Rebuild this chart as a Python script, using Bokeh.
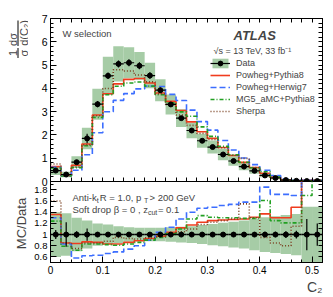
import numpy as np
from bokeh.plotting import figure
from bokeh.layouts import column, row
from bokeh.models import (ColumnDataSource, Label, Legend, LegendItem, LinearAxis,
                          FixedTicker, Range1d, Title)
from bokeh.embed import file_html
from bokeh.resources import INLINE

# ---------------- data ----------------
bin_edges = [0.00, 0.02, 0.04, 0.06, 0.08, 0.10, 0.12, 0.14, 0.16, 0.18, 0.20, 0.22, 0.24,
             0.26, 0.28, 0.30, 0.32, 0.34, 0.36, 0.38, 0.40, 0.42, 0.44, 0.46, 0.48, 0.50, 0.52]
data_values = [0.47, 0.30, 0.83, 1.85, 3.32, 4.54, 5.05, 5.10, 4.97, 4.55, 3.92, 3.31, 2.72,
               2.19, 1.75, 1.48, 1.16, 0.88, 0.64, 0.46, 0.26, 0.15, 0.06, 0.03, 0.02, 0.02]
data_stat_rel = [0.08, 0.22, 0.06, 0.11, 0.04, 0.03, 0.03, 0.03, 0.03, 0.03, 0.03, 0.03, 0.03,
                 0.03, 0.03, 0.03, 0.03, 0.04, 0.04, 0.04, 0.05, 0.05, 0.06, 0.07, 0.28, 0.20]
data_total_rel = [0.40, 0.38, 0.30, 0.25, 0.20, 0.18, 0.15, 0.13, 0.12, 0.12, 0.12, 0.13, 0.14,
                  0.15, 0.17, 0.19, 0.21, 0.23, 0.25, 0.28, 0.31, 0.33, 0.35, 0.37, 0.50, 0.50]
ratio_powheg_pythia8 = [1.36, 0.85, 0.84, 0.87, 0.86, 0.83, 0.83, 0.86, 0.89, 0.93, 0.97, 1.04, 1.12,
                        1.17, 1.22, 1.25, 1.26, 1.27, 1.28, 1.31, 1.37, 1.30, 1.30, 1.49, 2.60, 2.60]
ratio_powheg_herwig7 = [1.30, 0.83, 0.58, 0.62, 0.63, 0.66, 0.69, 0.74, 0.80, 0.90, 1.04, 1.13, 1.28,
                        1.40, 1.47, 1.49, 1.52, 1.54, 1.58, 1.58, 1.85, 1.72, 1.72, 1.70, 2.60, 2.60]
ratio_mg5_pythia8 = [1.24, 0.79, 0.72, 0.83, 0.83, 0.82, 0.81, 0.83, 0.86, 0.90, 0.95, 1.02, 1.10,
                     1.28, 1.34, 1.31, 1.30, 1.30, 1.29, 1.29, 1.61, 1.25, 1.21, 1.21, 1.70, 2.60]
ratio_sherpa = [1.60, 0.85, 0.75, 0.85, 0.85, 0.88, 0.95, 0.93, 0.92, 0.94, 0.96, 1.00, 1.05,
                1.10, 1.18, 1.22, 1.25, 1.28, 1.55, 1.30, 0.95, 0.85, 0.80, 1.15, 2.60, 2.60]
series_names = ["Powheg+Pythia8", "Powheg+Herwig7", "MG5_aMC+Pythia8", "Sherpa"]
x_ticks = [0.0, 0.1, 0.2, 0.3, 0.4, 0.5]
x_tick_labels = ["0", "0.1", "0.2", "0.3", "0.4", "0.5"]
main_y_ticks = [0, 1, 2, 3, 4, 5, 6, 7]
ratio_y_ticks = [0.6, 0.8, 1.0, 1.2, 1.4, 1.6, 1.8]
ratio_y_tick_labels = ["0.6", "0.8", "1", "1.2", "1.4", "1.6", "1.8"]

# ---------------- styling ----------------
FONT = "Liberation Sans"
GREEN = "#a6cca6"
styles = [
    dict(line_color="#f03c1e", line_width=1.6, line_dash="solid"),
    dict(line_color="#3c6eff", line_width=1.6, line_dash="6 3"),
    dict(line_color="#22a022", line_width=1.6, line_dash="4 2 1 2"),
    dict(line_color="#7a4020", line_width=1.6, line_dash="1 2"),
]
LEFT_W = 28          # width of the strip holding the y titles
FW, FH_MAIN, FH_RATIO = 272, 163, 81
OVERLAP = 6          # main panel's bottom border slides under the ratio panel
X0, X1 = 0.0, 0.52
MAIN_Y = (0.0, 7.0)
RATIO_Y = (0.5, 1.95)

edges = np.array(bin_edges)
lo, hi = edges[:-1], edges[1:]
ctr = 0.5 * (lo + hi)
data = np.array(data_values)
stat = np.array(data_stat_rel)
tot = np.array(data_total_rel)
ratios = [np.array(r) for r in (ratio_powheg_pythia8, ratio_powheg_herwig7,
                                ratio_mg5_pythia8, ratio_sherpa)]

minor_x = list(np.round(np.arange(0, 0.5201, 0.02), 3))
minor_main_y = list(np.round(np.arange(0, 7.01, 0.2), 2))
minor_ratio_y = list(np.round(np.arange(0.5, 1.951, 0.1), 2))


def style_axis(ax, size="10px"):
    ax.major_tick_in = 6
    ax.major_tick_out = 0
    ax.minor_tick_in = 3
    ax.minor_tick_out = 0
    ax.axis_line_color = "black"
    ax.major_tick_line_color = "black"
    ax.minor_tick_line_color = "black"
    ax.major_label_text_font = FONT
    ax.major_label_text_color = "black"
    ax.major_label_text_font_size = size
    ax.major_label_standoff = 3


def bare_axis(minor):
    # tick marks only (no labels): every tick drawn as a "minor" tick
    ax = LinearAxis(ticker=FixedTicker(ticks=[], minor_ticks=minor))
    ax.minor_tick_in = 4
    ax.minor_tick_out = 0
    ax.major_tick_in = 0
    ax.major_tick_out = 0
    ax.major_label_standoff = 0
    ax.axis_line_color = "black"
    return ax


def px2x(px):
    return X0 + (px - 50.0) / FW * (X1 - X0)


def main_y(py):
    return MAIN_Y[0] + (181.0 - py) / FH_MAIN * (MAIN_Y[1] - MAIN_Y[0])


def ratio_y(py):
    return RATIO_Y[1] - (py - 181.0) / FH_RATIO * (RATIO_Y[1] - RATIO_Y[0])


# ---------------- main panel ----------------
p1 = figure(width=22 + FW + 11, height=18 + FH_MAIN + OVERLAP, x_range=Range1d(X0, X1),
            y_range=Range1d(*MAIN_Y), output_backend="svg", toolbar_location=None,
            x_axis_type=None, y_axis_type=None,
            min_border_left=22, min_border_right=11, min_border_top=18,
            min_border_bottom=OVERLAP)
p1.grid.visible = False
p1.outline_line_color = "black"

yax = LinearAxis(ticker=FixedTicker(ticks=main_y_ticks, minor_ticks=minor_main_y))
style_axis(yax, size="10.5px")
p1.add_layout(yax, "left")
p1.add_layout(bare_axis(minor_x), "below")
p1.add_layout(bare_axis(minor_x), "above")
p1.add_layout(bare_axis(minor_main_y), "right")

band_src = ColumnDataSource(dict(left=lo, right=hi, bottom=data * (1 - tot), top=data * (1 + tot)))
band_r = p1.quad(left="left", right="right", bottom="bottom", top="top", source=band_src,
                 fill_color=GREEN, line_color=None)

mc_renderers = []
for r, st in zip(ratios, styles):
    mc = data * r
    rr = p1.step(x=edges, y=np.append(mc, mc[-1]), mode="after", **st)
    mc_renderers.append(rr)

dsrc = ColumnDataSource(dict(x=ctr, y=data, lo=lo, hi=hi,
                             ylo=data * (1 - stat), yhi=data * (1 + stat)))
hseg = p1.segment(x0="lo", y0="y", x1="hi", y1="y", source=dsrc, line_color="black", line_width=1.2)
p1.segment(x0="x", y0="ylo", x1="x", y1="yhi", source=dsrc, line_color="black", line_width=1.2)
pts = p1.scatter(x="x", y="y", source=dsrc, size=5, color="black")

items = [LegendItem(label="Data", renderers=[band_r, hseg, pts])]
for name, rr in zip(series_names, mc_renderers):
    items.append(LegendItem(label=name, renderers=[rr]))
legend = Legend(items=items, location=(160, 64), glyph_width=20, glyph_height=12,
                label_height=12, spacing=0, padding=0, margin=0, label_standoff=6,
                label_text_font=FONT, label_text_font_size="9px",
                background_fill_alpha=0, border_line_alpha=0)
p1.add_layout(legend)

p1.add_layout(Label(x=px2x(62), y=main_y(33), text="W selection", text_font=FONT,
                    text_font_size="9.5px", text_baseline="middle", text_align="left"))
p1.add_layout(Label(x=px2x(233), y=main_y(35), text="ATLAS", text_font=FONT,
                    text_font_size="13px", text_font_style="bold italic",
                    text_baseline="middle", text_align="left"))
p1.add_layout(Label(x=px2x(213), y=main_y(50), text="\u221as = 13 TeV, 33 fb\u207b\u00b9",
                    text_font=FONT, text_font_size="9px", text_baseline="middle",
                    text_align="left"))

# ---------------- ratio panel ----------------
p2 = figure(width=22 + FW + 11, height=FH_RATIO + 35, x_range=p1.x_range,
            y_range=Range1d(*RATIO_Y), output_backend="svg", toolbar_location=None,
            x_axis_type=None, y_axis_type=None, margin=(-OVERLAP, 0, 0, 0),
            min_border_left=22, min_border_right=11, min_border_top=0, min_border_bottom=35)
p2.grid.visible = False
p2.outline_line_color = "black"
p2.border_fill_alpha = 0
xax = LinearAxis(ticker=FixedTicker(ticks=x_ticks, minor_ticks=minor_x))
xax.major_label_overrides = {t: l for t, l in zip(x_ticks, x_tick_labels)}
style_axis(xax, size="10px")
p2.add_layout(xax, "below")
ryax = LinearAxis(ticker=FixedTicker(ticks=ratio_y_ticks, minor_ticks=minor_ratio_y))
ryax.major_label_overrides = {t: l for t, l in zip(ratio_y_ticks, ratio_y_tick_labels)}
style_axis(ryax, size="9.5px")
p2.add_layout(ryax, "left")
p2.add_layout(bare_axis(minor_ratio_y), "right")
p2.add_layout(Title(text="C\u2082", align="right", text_font=FONT, text_font_size="14px",
                    text_font_style="normal", standoff=0), "below")

p2.quad(left=lo, right=hi, bottom=np.maximum(1 - tot, RATIO_Y[0]), top=1 + tot,
        fill_color=GREEN, line_color=None)
for r, st in zip(ratios, styles):
    p2.step(x=edges, y=np.append(r, r[-1]), mode="after", **st)
ones = np.ones_like(ctr)
p2.segment(x0=lo, y0=ones, x1=hi, y1=ones, line_color="black", line_width=1.6)
p2.segment(x0=ctr, y0=1 - stat, x1=ctr, y1=1 + stat, line_color="black", line_width=1.2)
p2.scatter(x=ctr, y=ones, size=5, color="black")


def rich(parts, px, py):
    off = 0.0
    for txt, sub, w in parts:
        p2.add_layout(Label(x=px2x(px), y=ratio_y(py), x_offset=off,
                            y_offset=-3 if sub else 0, text=txt, text_font=FONT,
                            text_font_size="7px" if sub else "9.5px",
                            text_baseline="middle", text_align="left"))
        off += w


rich([("Anti-k", False, 24.3), ("t", True, 3.0), (" R = 1.0, p", False, 44.1),
      ("T", True, 5.6), (" > 200 GeV", False, 0)], 72, 196.5)
rich([("Soft drop \u03b2 = 0 , z", False, 75.4), ("cut", True, 10.0), (" = 0.1", False, 0)],
     72, 208.5)

# ---------------- strip with the y-axis titles ----------------
TOTAL_H = 18 + FH_MAIN + FH_RATIO + 35
pl = figure(width=LEFT_W, height=TOTAL_H, x_range=Range1d(0, LEFT_W),
            y_range=Range1d(TOTAL_H, 0), output_backend="svg", toolbar_location=None,
            x_axis_type=None, y_axis_type=None, min_border=0)
pl.grid.visible = False
pl.outline_line_color = None
ang = np.pi / 2
for txt, px, py in [("1", 12.5, 52.5), ("\u03c3", 23.0, 52.5),
                    ("d\u03c3", 12.5, 39), ("d(C\u2082)", 23.0, 32.5)]:
    pl.add_layout(Label(x=px, y=py, text=txt, angle=ang, text_font=FONT,
                        text_font_size="11px", text_align="center", text_baseline="middle"))
pl.segment(x0=[17.5, 17.5], y0=[47.5, 20.0], x1=[17.5, 17.5], y1=[57.5, 45.5],
           line_color="black", line_width=1)
pl.add_layout(Label(x=21, y=223, text="MC/Data", angle=ang, text_font=FONT,
                    text_font_size="13px", text_align="center", text_baseline="middle"))

layout = row(pl, column(p1, p2, spacing=0), spacing=0)
open("out.html", "w").write(file_html(layout, INLINE))
